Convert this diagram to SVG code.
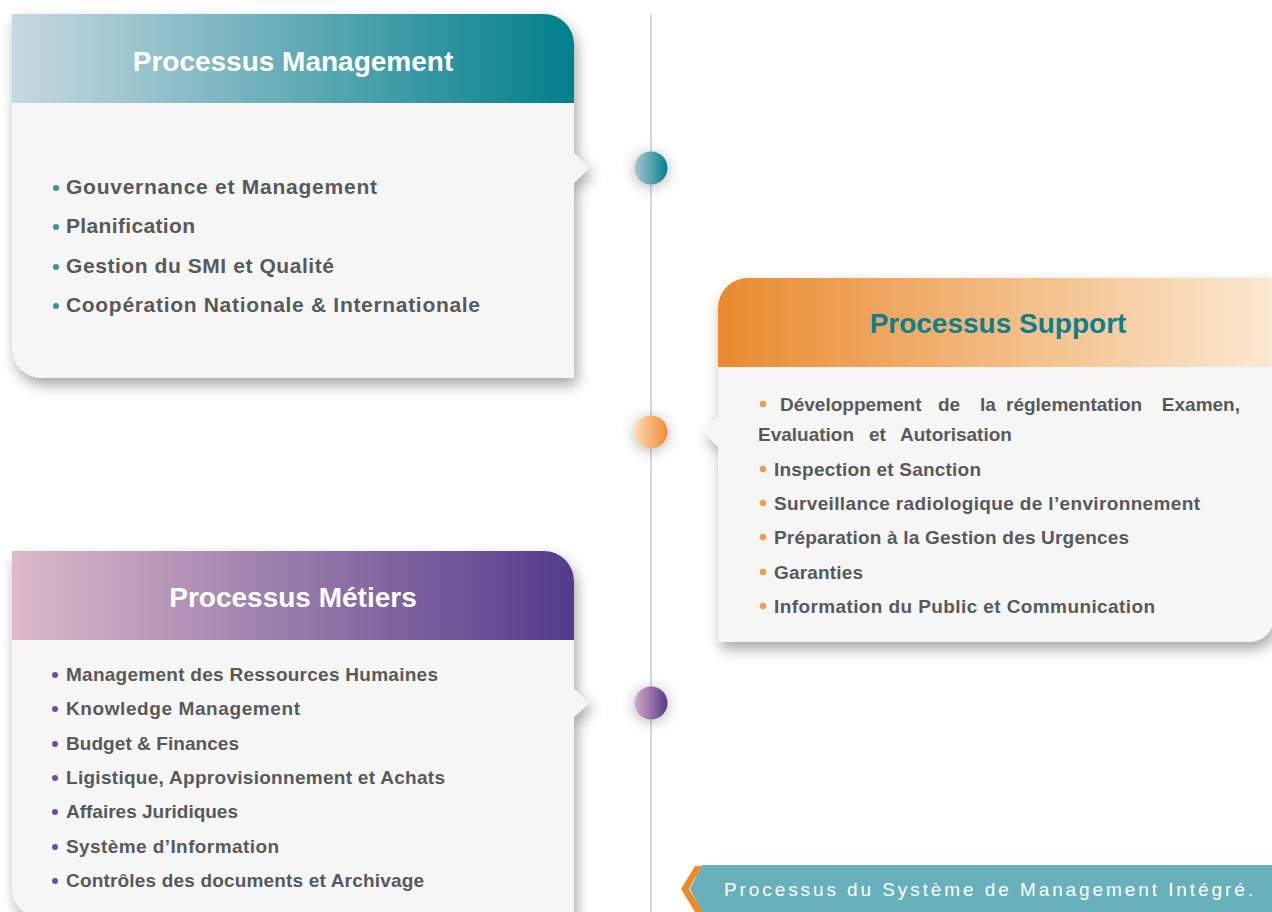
<svg xmlns="http://www.w3.org/2000/svg" width="1272" height="912" viewBox="0 0 1272 912">
<defs>
<linearGradient id="gM" x1="0" y1="0" x2="1" y2="0"><stop offset="0" stop-color="#c8d8e0"/><stop offset="1" stop-color="#00808c"/></linearGradient>
<linearGradient id="gS" x1="0" y1="0" x2="1" y2="0"><stop offset="0" stop-color="#e98a2e"/><stop offset="1" stop-color="#fce9d2"/></linearGradient>
<linearGradient id="gB" x1="0" y1="0" x2="1" y2="0"><stop offset="0" stop-color="#dcbaca"/><stop offset="1" stop-color="#543b8b"/></linearGradient>
<linearGradient id="cM" x1="0" y1="0" x2="1" y2="0"><stop offset="0" stop-color="#aac8d2"/><stop offset="1" stop-color="#00808c"/></linearGradient>
<linearGradient id="cS" x1="0" y1="0" x2="1" y2="0"><stop offset="0" stop-color="#fbdcb4"/><stop offset="1" stop-color="#ee8c33"/></linearGradient>
<linearGradient id="cB" x1="0" y1="0" x2="1" y2="0"><stop offset="0" stop-color="#d6aac6"/><stop offset="1" stop-color="#543b8b"/></linearGradient>
<filter id="sh" x="-10%" y="-10%" width="125%" height="130%"><feDropShadow dx="3" dy="7" stdDeviation="7" flood-color="#000" flood-opacity="0.35"/></filter>
<filter id="csh" x="-100%" y="-100%" width="300%" height="300%"><feDropShadow dx="0" dy="2" stdDeviation="7" flood-color="#000" flood-opacity="0.3"/></filter>
<style>
.body{fill:#f6f6f6}
.title{font-family:"Liberation Sans",Arial,sans-serif;font-weight:bold;font-size:28px;text-anchor:middle}
.item{font-family:"Liberation Sans",Arial,sans-serif;font-weight:bold;fill:#58595b}
.m{font-size:21px}
.s{font-size:19px}
.b{font-size:19px}
.bm{fill:#3a92a2}
.bs{fill:#f19a4c}
.bb{fill:#6a509e}
.banner{font-family:"Liberation Sans",Arial,sans-serif;font-size:19px;fill:#ffffff;letter-spacing:3px}
</style>
</defs>
<rect width="1272" height="912" fill="#ffffff"/>
<g id="connectors">
<line x1="651" y1="14" x2="651" y2="912" stroke="#cfdbe2" stroke-width="2"/>
</g>
<g id="dot-management"><circle cx="651" cy="168" r="16.5" fill="url(#cM)" filter="url(#csh)"/></g>
<g id="dot-support"><circle cx="651" cy="432" r="16.5" fill="url(#cS)" filter="url(#csh)"/></g>
<g id="dot-metiers"><circle cx="651" cy="703" r="16.5" fill="url(#cB)" filter="url(#csh)"/></g>

<g id="card-management">
<path class="body" filter="url(#sh)" d="M12,14 H544 A30,30 0 0 1 574,44 V153 L589,168 L574,183 V378 H42 A30,30 0 0 1 12,348 Z"/>
<path fill="url(#gM)" d="M12,14 H544 A30,30 0 0 1 574,44 V103 H12 Z"/>
<text class="title" x="293" y="71" fill="#ffffff">Processus Management</text>
<circle class="bm" cx="56" cy="188" r="3"/><text class="item m" x="66" y="194" textLength="311">Gouvernance et Management</text>
<circle class="bm" cx="56" cy="227" r="3"/><text class="item m" x="66" y="233" textLength="129">Planification</text>
<circle class="bm" cx="56" cy="267" r="3"/><text class="item m" x="66" y="273" textLength="268">Gestion du SMI et Qualité</text>
<circle class="bm" cx="56" cy="306" r="3"/><text class="item m" x="66" y="312" textLength="414">Coopération Nationale &amp; Internationale</text>
</g>

<g id="card-support">
<path class="body" filter="url(#sh)" d="M718,308 A30,30 0 0 1 748,278 H1274 V617 A25,25 0 0 1 1249,642 H718 V447 L703,432 L718,417 Z"/>
<path fill="url(#gS)" d="M718,308 A30,30 0 0 1 748,278 H1274 V367 H718 Z"/>
<text class="title" x="998" y="333" fill="#0b7f8b">Processus Support</text>
<circle class="bs" cx="763" cy="404" r="3.2"/>
<text class="item s" x="780" y="411">Développement</text>
<text class="item s" x="938" y="411">de</text>
<text class="item s" x="980" y="411">la</text>
<text class="item s" x="1006" y="411">réglementation</text>
<text class="item s" x="1240" y="411" text-anchor="end">Examen,</text>
<text class="item s" x="758" y="441">Evaluation</text>
<text class="item s" x="869" y="441">et</text>
<text class="item s" x="900" y="441">Autorisation</text>
<circle class="bs" cx="763" cy="469" r="3.2"/><text class="item s" x="774" y="476" textLength="207">Inspection et Sanction</text>
<circle class="bs" cx="763" cy="503" r="3.2"/><text class="item s" x="774" y="510" textLength="426">Surveillance radiologique de l’environnement</text>
<circle class="bs" cx="763" cy="537" r="3.2"/><text class="item s" x="774" y="544" textLength="355">Préparation à la Gestion des Urgences</text>
<circle class="bs" cx="763" cy="572" r="3.2"/><text class="item s" x="774" y="579" textLength="89">Garanties</text>
<circle class="bs" cx="763" cy="606" r="3.2"/><text class="item s" x="774" y="613" textLength="381">Information du Public et Communication</text>
</g>

<g id="card-metiers">
<path class="body" filter="url(#sh)" d="M12,551 H544 A30,30 0 0 1 574,581 V689 L589,703 L574,717 V918 H42 A30,30 0 0 1 12,888 Z"/>
<path fill="url(#gB)" d="M12,551 H544 A30,30 0 0 1 574,581 V640 H12 Z"/>
<text class="title" x="293" y="607" fill="#ffffff">Processus Métiers</text>
<circle class="bb" cx="55" cy="675" r="3"/><text class="item b" x="66" y="681" textLength="372">Management des Ressources Humaines</text>
<circle class="bb" cx="55" cy="709" r="3"/><text class="item b" x="66" y="715" textLength="234">Knowledge Management</text>
<circle class="bb" cx="55" cy="744" r="3"/><text class="item b" x="66" y="750" textLength="173">Budget &amp; Finances</text>
<circle class="bb" cx="55" cy="778" r="3"/><text class="item b" x="66" y="784" textLength="379">Ligistique, Approvisionnement et Achats</text>
<circle class="bb" cx="55" cy="812" r="3"/><text class="item b" x="66" y="818" textLength="172">Affaires Juridiques</text>
<circle class="bb" cx="55" cy="847" r="3"/><text class="item b" x="66" y="853" textLength="213">Système d’Information</text>
<circle class="bb" cx="55" cy="881" r="3"/><text class="item b" x="66" y="887" textLength="358">Contrôles des documents et Archivage</text>
</g>

<g id="caption">
<polygon fill="#68b1bc" points="702,865 1272,865 1272,912 702,912 690,889"/>
<polygon fill="#ec8a2c" points="695,866 702,866 689,889 703,912 695,912 681,889"/>
<text class="banner" x="724" y="896" textLength="532">Processus du Système de Management Intégré.</text>
</g>
</svg>
